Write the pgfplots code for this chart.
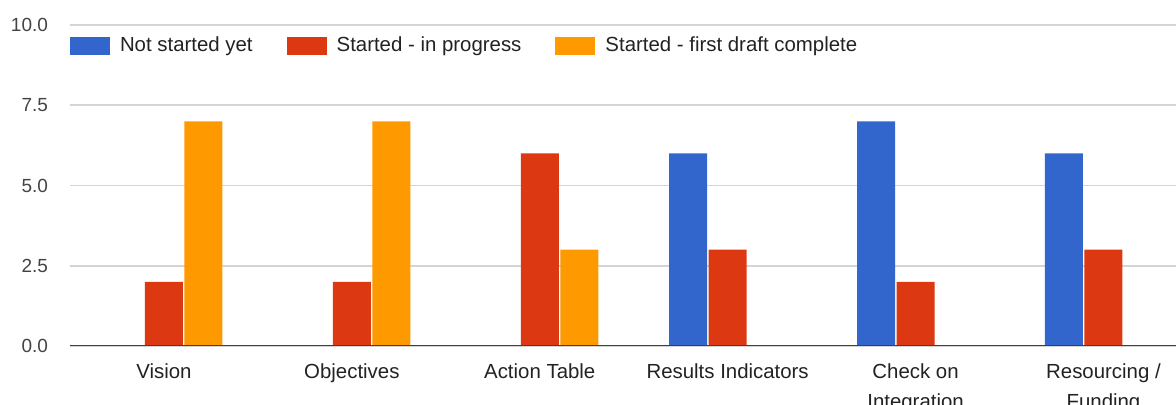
\documentclass[border=0pt]{standalone}
\usepackage{pgfplots}
\pgfplotsset{compat=1.18}
\usepackage{fontspec}
\setmainfont{Liberation Sans}
\definecolor{gblue}{HTML}{3366CC}
\definecolor{gred}{HTML}{DC3912}
\definecolor{gorange}{HTML}{FF9900}
\definecolor{ggrid}{HTML}{D4D4D4}
\definecolor{gtext}{HTML}{222222}
\pgfplotsset{
  /pgfplots/ybar legend/.style={
    /pgfplots/legend image code/.code={\fill[##1] (0pt,-4.5pt) rectangle (20pt,4.5pt);}
  }
}
\begin{document}
\begin{tikzpicture}
\path[use as bounding box, clip] (-35pt,-29.5pt) rectangle (553pt,173pt);
\begin{axis}[
  at={(0,0)}, anchor=south west,
  scale only axis,
  width=563.7pt, height=160.5pt,
  xmin=-0.5, xmax=5.5, ymin=0, ymax=10,
  ybar=0.75pt, bar width=19pt,
  axis line style={draw=none},
  major tick length=0pt,
  ymajorgrids, grid style={ggrid, line width=0.9pt},
  ytick={0,2.5,5,7.5,10},
  /pgf/number format/fixed,
  /pgf/number format/fixed zerofill,
  /pgf/number format/precision=1,
  /pgf/number format/assume math mode=true,
  yticklabel style={font=\fontsize{9.5}{11}\selectfont, text=gtext!85, xshift=-7.5pt},
  xtick={0,1,2,3,4,5},
  xticklabels={Vision, Objectives, Action Table, Results Indicators, {Check on\\Integration}, {Resourcing /\\Funding}},
  xticklabel style={align=center, font=\fontsize{10.2}{14.6}\selectfont, text=gtext, yshift=-5.5pt},
  legend columns=3,
  legend style={at={(rel axis cs:0,0.9346)}, anchor=west, draw=none, fill=none,
    inner sep=0pt, outer sep=0pt,
    nodes={inner sep=0pt},
    font=\fontsize{10.2}{12}\selectfont, text=gtext,
    /tikz/every odd column/.append style={column sep=5pt},
    /tikz/every even column/.append style={column sep=17pt}},
  legend cell align=left,
]
\addplot[fill=gblue, draw=none] coordinates {(0,0) (1,0) (2,0) (3,6) (4,7) (5,6)};
\addplot[fill=gred, draw=none] coordinates {(0,2) (1,2) (2,6) (3,3) (4,2) (5,3)};
\addplot[fill=gorange, draw=none] coordinates {(0,7) (1,7) (2,3) (3,0) (4,0) (5,0)};
\legend{Not started yet, Started - in progress, Started - first draft complete}
\draw[black!75, line width=1pt] (rel axis cs:0,0) -- (rel axis cs:1,0);
\end{axis}
\end{tikzpicture}
\end{document}
